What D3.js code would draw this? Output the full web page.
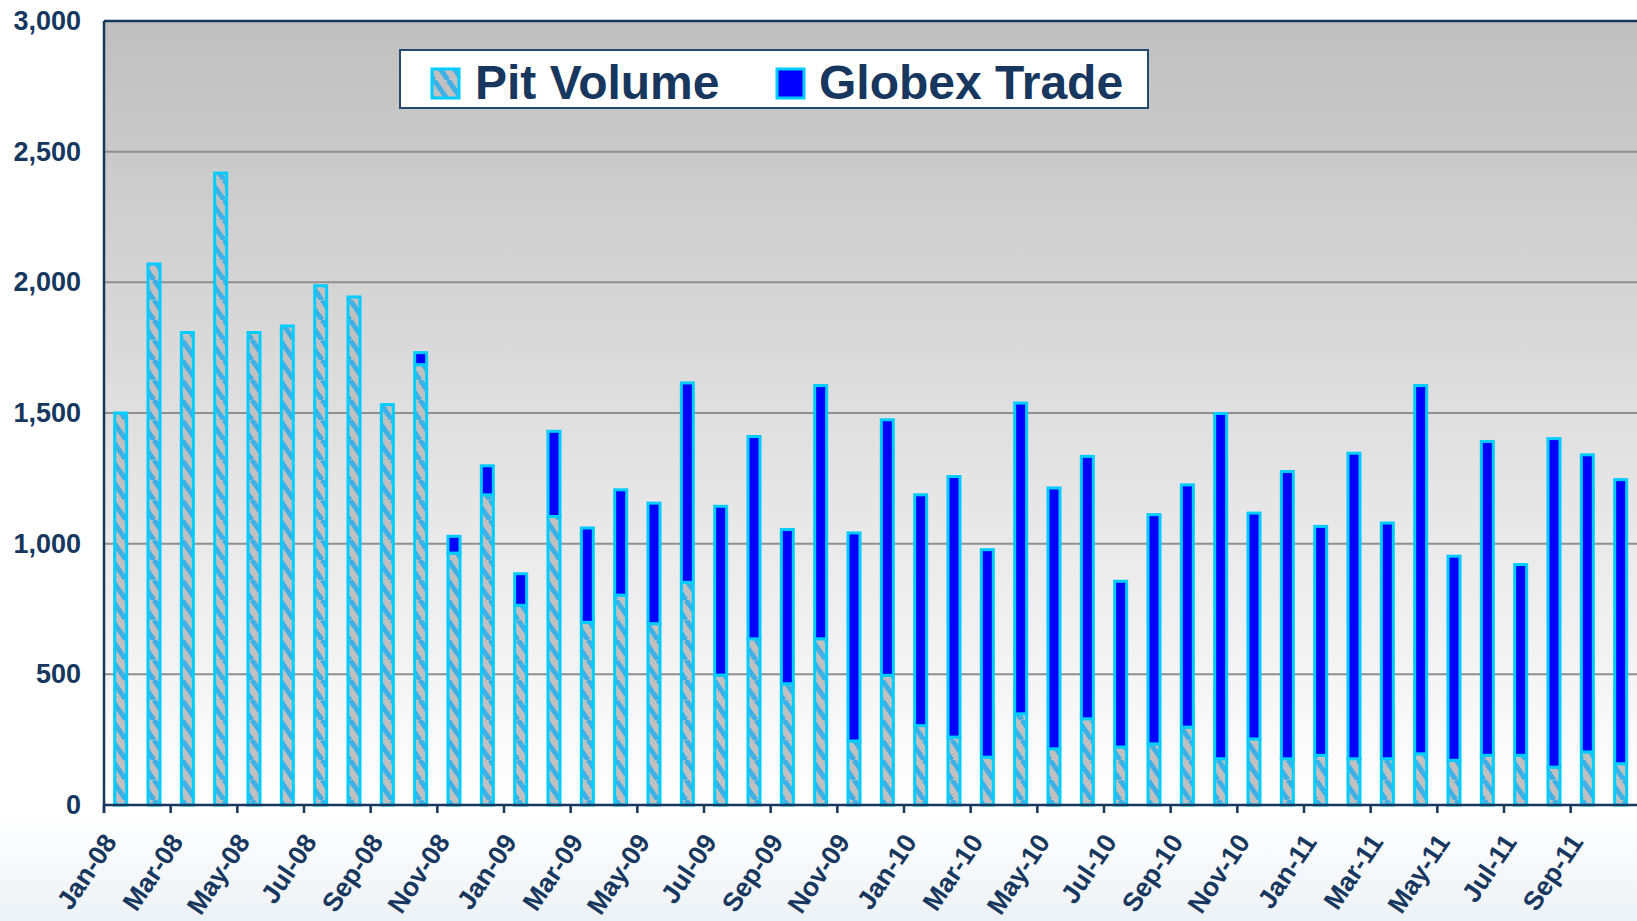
<!DOCTYPE html>
<html>
<head>
<meta charset="utf-8">
<script src="https://cdn.jsdelivr.net/npm/d3@7"></script>
<style>
html,body{margin:0;padding:0;background:#fff;overflow:hidden;}
svg{display:block;}
text{font-family:"Liberation Sans",Arial,sans-serif;font-weight:bold;fill:#17375e;}
</style>
</head>
<body>
<svg id="chart" width="1637" height="921"></svg>
<script>
const months = ["Jan-08","Feb-08","Mar-08","Apr-08","May-08","Jun-08","Jul-08","Aug-08","Sep-08","Oct-08","Nov-08","Dec-08",
"Jan-09","Feb-09","Mar-09","Apr-09","May-09","Jun-09","Jul-09","Aug-09","Sep-09","Oct-09","Nov-09","Dec-09",
"Jan-10","Feb-10","Mar-10","Apr-10","May-10","Jun-10","Jul-10","Aug-10","Sep-10","Oct-10","Nov-10","Dec-10",
"Jan-11","Feb-11","Mar-11","Apr-11","May-11","Jun-11","Jul-11","Aug-11","Sep-11","Oct-11"];
const pitVolume = [1500,2070,1808,2418,1808,1833,1987,1944,1532,1685,964,1187,
764,1104,699,803,694,852,497,636,464,636,245,496,
304,260,183,349,215,330,222,234,298,177,253,177,
190,177,177,196,171,190,190,145,203,158];
const globexTrade = [0,0,0,0,0,0,0,0,0,46,64,111,
121,326,361,403,461,763,646,774,590,969,796,978,
883,997,794,1189,998,1004,634,877,927,1321,864,1099,
876,1169,902,1409,781,1201,730,1257,1137,1087];
const yTicks = [0,500,1000,1500,2000,2500,3000];
const seriesNames = ["Pit Volume","Globex Trade"];

(function(){
const svg = d3.select("#chart");
const mLeft = 104, mTop = 21, mBottom = 805;
const n = months.length;
const step = 100/3;
const mRight = mLeft + n*step;

const x = d3.scaleBand().domain(months).range([mLeft, mRight]).paddingInner(0.58).paddingOuter(0.29);
const xb = d3.scaleLinear().domain([0, n]).range([mLeft, mRight]);
const y = d3.scaleLinear().domain([0, 3000]).range([mBottom, mTop]);

const defs = svg.append("defs");
const bg = defs.append("linearGradient").attr("id","plotbg").attr("x1",0).attr("y1",0).attr("x2",0).attr("y2",1);
bg.append("stop").attr("offset","0%").attr("stop-color","#bfbfbf");
bg.append("stop").attr("offset","100%").attr("stop-color","#ffffff");
const lowbg = defs.append("linearGradient").attr("id","lowbg").attr("x1",0).attr("y1",0).attr("x2",0).attr("y2",1);
lowbg.append("stop").attr("offset","0%").attr("stop-color","#ffffff");
lowbg.append("stop").attr("offset","100%").attr("stop-color","#edf2f6");

const pat = defs.append("pattern").attr("id","stripes").attr("patternUnits","userSpaceOnUse")
  .attr("width",14).attr("height",20);
pat.append("rect").attr("width",14).attr("height",20).attr("fill","#c0c0c0");
pat.append("path").attr("d","M0,0 L14,20 M-14,0 L0,20 M14,0 L28,20")
  .attr("stroke","#3fb0e6").attr("stroke-width",5);

svg.append("rect").attr("x",0).attr("y",815).attr("width",1637).attr("height",106).attr("fill","url(#lowbg)");

svg.append("rect").attr("x",mLeft).attr("y",mTop).attr("width",mRight-mLeft).attr("height",mBottom-mTop).attr("fill","url(#plotbg)");

svg.append("g").selectAll("line").data(yTicks.filter(d=>d>0 && d<3000)).join("line")
  .attr("x1",mLeft).attr("x2",mRight).attr("y1",d=>y(d)).attr("y2",d=>y(d))
  .attr("stroke","#8f8f8f").attr("stroke-width",2);

const bars = svg.append("g");
const bw = x.bandwidth();
bars.selectAll("rect.pit").data(months).join("rect").attr("class","pit")
  .attr("x",d=>x(d)+1).attr("width",bw-2)
  .attr("y",(d,i)=>y(pitVolume[i])).attr("height",(d,i)=>y(0)-y(pitVolume[i]))
  .attr("fill","url(#stripes)").attr("stroke","#00ccff").attr("stroke-width",3);
const gData = months.map((m,i)=>({m, base: pitVolume[i], v: globexTrade[i]})).filter(d=>d.v>0);
bars.selectAll("rect.globex").data(gData).join("rect").attr("class","globex")
  .attr("x",d=>x(d.m)+1).attr("width",bw-2)
  .attr("y",d=>y(d.base+d.v))
  .attr("height",d=>y(d.base)-y(d.base+d.v))
  .attr("fill","#0000ff").attr("stroke","#00ccff").attr("stroke-width",3);

const navy = "#17375e";
svg.append("line").attr("x1",mLeft).attr("x2",mRight).attr("y1",mTop).attr("y2",mTop).attr("stroke",navy).attr("stroke-width",2.5);
svg.append("line").attr("x1",mLeft).attr("x2",mLeft).attr("y1",mTop).attr("y2",mBottom+8).attr("stroke",navy).attr("stroke-width",2.5);
svg.append("line").attr("x1",mLeft).attr("x2",mRight).attr("y1",mBottom).attr("y2",mBottom).attr("stroke",navy).attr("stroke-width",2.5);

const tickIdx = d3.range(0, n, 2);
svg.append("g").selectAll("line").data(tickIdx).join("line")
  .attr("x1",d=>xb(d)).attr("x2",d=>xb(d)).attr("y1",mBottom).attr("y2",mBottom+8)
  .attr("stroke",navy).attr("stroke-width",2.5);

const fmt = d3.format(",");
svg.append("g").selectAll("text").data(yTicks).join("text")
  .attr("x",81).attr("y",d=>y(d)).attr("text-anchor","end").attr("dominant-baseline","central")
  .attr("font-size",27).text(d=>fmt(d));

svg.append("g").selectAll("text").data(tickIdx).join("text")
  .attr("text-anchor","end").attr("font-size",26.5)
  .attr("transform",d=>`translate(${x(months[d])+bw/2-3},842) rotate(-56)`)
  .text(d=>months[d]);

const lg = svg.append("g");
lg.append("rect").attr("x",400).attr("y",50).attr("width",748).attr("height",58)
  .attr("fill","#ffffff").attr("stroke","#244b6e").attr("stroke-width",2);
lg.append("rect").attr("x",432).attr("y",69).attr("width",27).attr("height",29)
  .attr("fill","url(#stripes)").attr("stroke","#00ccff").attr("stroke-width",3);
lg.append("text").attr("x",475).attr("y",99).attr("font-size",48).text(seriesNames[0]);
lg.append("rect").attr("x",777).attr("y",69).attr("width",27).attr("height",29)
  .attr("fill","#0000ff").attr("stroke","#00ccff").attr("stroke-width",3);
lg.append("text").attr("x",819).attr("y",99).attr("font-size",48).text(seriesNames[1]);
})();
</script>
</body>
</html>
